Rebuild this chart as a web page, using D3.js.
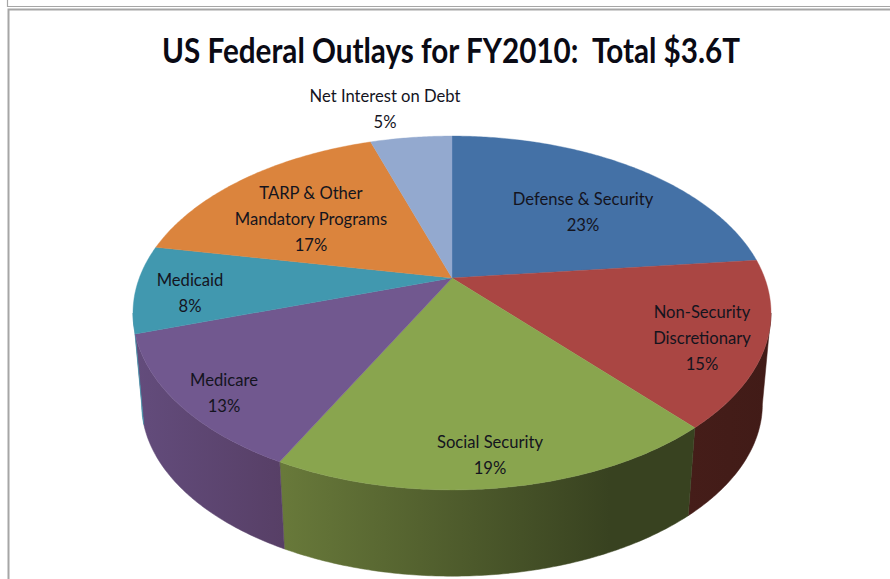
<!DOCTYPE html>
<html><head><meta charset="utf-8">
<script src="https://cdn.jsdelivr.net/npm/d3@7/dist/d3.min.js"></script>
<style>html,body{margin:0;padding:0;background:#fff;overflow:hidden}svg{display:block}text{font-family:Lato,"Open Sans",sans-serif}</style>
</head><body><svg id="c" width="890" height="579"></svg>
<script>
const categories=["Defense & Security","Non-Security Discretionary","Social Security","Medicare","Medicaid","TARP & Other Mandatory Programs","Net Interest on Debt"];
const values=[23.3,15.2,19.0,12.5,8.0,17.0,5.0];
const percentLabels=["23%","15%","19%","13%","8%","17%","5%"];
const labelLines=[["Defense & Security"],["Non-Security","Discretionary"],["Social Security"],["Medicare"],["Medicaid"],["TARP & Other","Mandatory Programs"],["Net Interest on Debt"]];
const topColors=["#4471a6","#aa4643","#89a54e","#71588f","#4198af","#db843d","#93a9cf"];
const sideFrom=["#2a4568","#451d19","#68793a","#634c7c","#3f8ea6","#8a5426","#5c6b85"];
const sideTo=["#2a4568","#411b17","#384220","#573f66","#3f8ea6","#8a5426","#5c6b85"];

// layout (label centres in page pixels, first-line centre)
const labelCentres=[[583,199],[702,312],[490,442],[224,380],[190,280],[311,193],[385,96]];
const lineStep=26;
const cx=452,cy=278,persp=0.1977,radX=312.7,radY=170,drop=92,lowerScale=0.973;

const svg=d3.select("#c");
const defs=svg.append("defs");

// frame
svg.append("path").attr("d","M7.5 0V6.5H890").attr("fill","none").attr("stroke","#a6a6a6").attr("stroke-width",1.2);
svg.append("path").attr("d","M8.5 579V9.5H890").attr("fill","none").attr("stroke","#a6a6a6").attr("stroke-width",2);

svg.append("text").attr("x",451).attr("y",63).attr("text-anchor","middle")
  .attr("font-size",34).attr("font-weight",700).attr("fill","#0a0a14")
  .attr("textLength",578).attr("lengthAdjust","spacingAndGlyphs")
  .attr("xml:space","preserve").style("white-space","pre")
  .text("US Federal Outlays for FY2010:  Total $3.6T");

const arcs=d3.pie().sort(null).value(d=>d)(values);

// disc -> page: a plain perspective projection, angle clockwise from top
function project(a,r,lower){
  const u=Math.sin(a)*r, v=-Math.cos(a)*r, d=1-persp*v, s=lower?lowerScale:1;
  return [cx+s*radX*u/d, cy+(lower?drop:0)+s*radY*v/d];
}
function rim(a0,a1,lower){
  const n=Math.max(2,Math.ceil((a1-a0)/0.01));
  return d3.range(n+1).map(i=>project(a0+(a1-a0)*i/n,1,lower));
}
const line=d3.line();

// visible wall spans between the two silhouette tangents
const visA=Math.acos(-persp), visB=2*Math.PI-visA;
const walls=svg.append("g");
arcs.forEach((d,i)=>{
  const a0=Math.max(d.startAngle,visA), a1=Math.min(d.endAngle,visB);
  if(a1<=a0) return;
  const top=rim(a0,a1,false), low=rim(a0,a1,true).reverse();
  const xs=top.concat(low).map(p=>p[0]);
  const id="w"+i;
  const g=defs.append("linearGradient").attr("id",id).attr("gradientUnits","userSpaceOnUse")
    .attr("x1",i===2?283:d3.min(xs)).attr("x2",i===2?610:d3.max(xs)).attr("y1",0).attr("y2",0);
  g.append("stop").attr("offset",0).attr("stop-color",sideFrom[i]);
  g.append("stop").attr("offset",1).attr("stop-color",sideTo[i]);
  walls.append("path").attr("d",line(top.concat(low))+"Z").attr("fill","url(#"+id+")")
    .attr("stroke","url(#"+id+")").attr("stroke-width",0.5);
});

// top face
const faces=svg.append("g");
arcs.forEach((d,i)=>{
  faces.append("path").attr("d",line([[cx,cy]].concat(rim(d.startAngle,d.endAngle,false)))+"Z")
    .attr("fill",topColors[i]).attr("stroke",topColors[i]).attr("stroke-width",0.4);
});

// labels
const labels=svg.append("g").attr("font-size",16.6).attr("fill","#14141e").attr("text-anchor","middle");
categories.forEach((c,i)=>{
  const lines=labelLines[i].concat(percentLabels[i]);
  const t=labels.append("text");
  lines.forEach((s,j)=>{
    t.append("tspan").attr("x",labelCentres[i][0]).attr("y",labelCentres[i][1]+6+j*lineStep).text(s);
  });
});
</script></body></html>
